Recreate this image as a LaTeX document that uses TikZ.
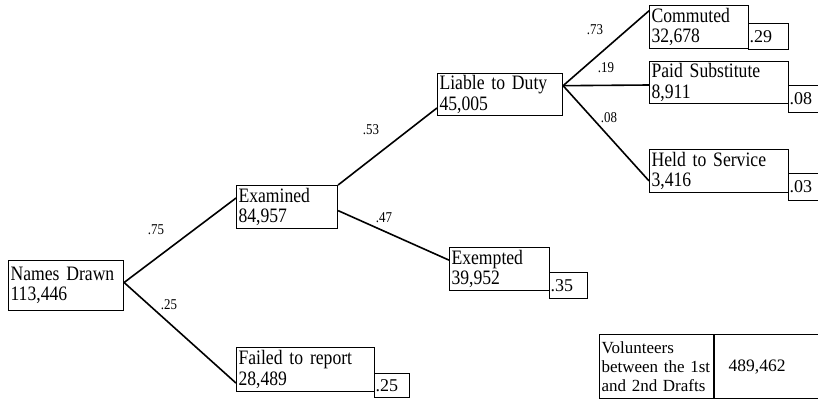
\documentclass[tikz,border=0pt]{standalone}
\usepackage{fontspec}
\setmainfont{Liberation Serif}
\newfontfamily\narrowfont{Liberation Serif}[FakeStretch=0.86]

\tikzset{
  box/.style={draw, line width=1.1pt, anchor=north west, align=left, inner xsep=2pt, inner ysep=0pt, font=\narrowfont\fontsize{20.5}{20.5}\selectfont},
  ratio/.style={draw, line width=1.1pt, anchor=north west, align=left, inner xsep=1pt, inner ysep=0pt, font=\fontsize{18}{18}\selectfont},
  branch/.style={line width=1.6pt},
  prob/.style={font=\narrowfont\fontsize{15}{16}\selectfont}
}

\begin{document}
\begin{tikzpicture}[x=1pt,y=-1pt]
  \clip (0,0) rectangle (818,399);

  % boxes of the tree
  \node[box, text width=111pt, minimum height=50pt] (drawn) at (8,260) {Names Drawn\\113,446};
  \node[box, text width=97pt, minimum height=43pt] (exam) at (236,185) {Examined\\84,957};
  \node[box, text width=134pt, minimum height=44pt] (fail) at (236,347) {Failed to report\\28,489};
  \node[box, text width=121pt, minimum height=42pt] (liable) at (437,73) {Liable to Duty\\45,005};
  \node[box, text width=96pt, minimum height=43pt] (exempt) at (449,247) {Exempted\\39,952};
  \node[box, text width=95pt, minimum height=43pt] (comm) at (649,5) {Commuted\\32,678};
  \node[box, text width=135pt, minimum height=42pt] (paid) at (649,61) {Paid Substitute\\8,911};
  \node[box, text width=135pt, minimum height=43pt] (held) at (649,149) {Held to Service\\3,416};

  % shares
  \node[ratio, text width=33pt, minimum height=24pt] (failr) at (374,373) {.25};
  \node[ratio, text width=36pt, minimum height=26pt] (exemptr) at (549,272) {.35};
  \node[ratio, text width=38pt, minimum height=26pt] (commr) at (748,23) {.29};
  \node[ratio, text width=38pt, minimum height=27pt] (paidr) at (788,85) {.08};
  \node[ratio, text width=38pt, minimum height=27pt] (heldr) at (788,173) {.03};

  % volunteers
  \node[box, text width=110pt, minimum height=64pt, font=\fontsize{17}{18.7}\selectfont] (vol) at (599,334) {Volunteers\\between the 1st\\and 2nd Drafts};
  \node[box, text width=92pt, inner xsep=14pt, minimum height=64pt, font=\fontsize{17.5}{18.7}\selectfont] (volnum) at (vol.north east) {489,462};

  % branches
  \draw[branch] (drawn.3) -- (exam.170);
  \draw[branch] (drawn.3) -- (fail.191);
  \draw[branch] (exam.north east) -- (liable.192);
  \draw[branch] (exam.-4) -- (exempt.170);
  \draw[branch] (liable.8) -- (comm.162);
  \draw[branch] (liable.8) -- (paid.182);
  \draw[branch] (liable.8) -- (held.188);

  % probabilities
  \node[prob] (p75) at (156,230) {.75};
  \node[prob] (p25) at (169,305) {.25};
  \node[prob] (p53) at (371,130) {.53};
  \node[prob] (p47) at (384,218) {.47};
  \node[prob] (p73) at (595,30) {.73};
  \node[prob] (p19) at (606,68) {.19};
  \node[prob] (p08) at (609,118) {.08};
\end{tikzpicture}
\end{document}
